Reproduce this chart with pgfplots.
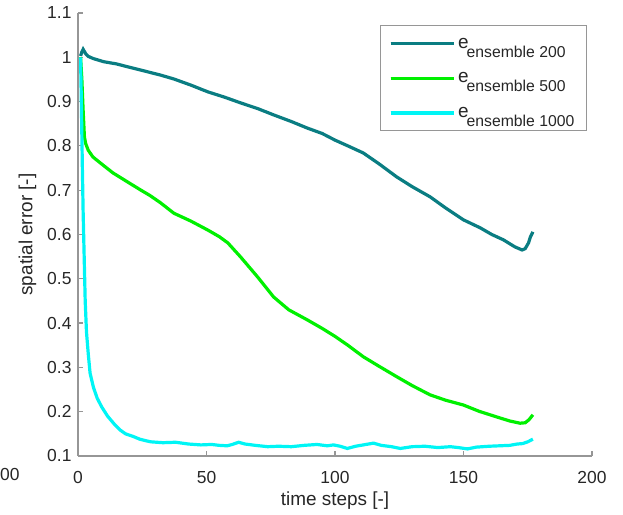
\documentclass[border=0pt]{standalone}
\usepackage{fontspec}
\setmainfont{Liberation Sans}
\usepackage{pgfplots}
\pgfplotsset{compat=1.18}
\definecolor{cteal}{RGB}{10,125,130}
\definecolor{cgreen}{RGB}{0,240,0}
\definecolor{ccyan}{RGB}{0,245,245}
\definecolor{axgray}{RGB}{150,150,150}
\newcommand{\ens}[1]{e\kern-2bp\raisebox{-9bp}{\fontsize{15.8}{17}\selectfont ensemble #1}}
\begin{document}
\begin{tikzpicture}
\begin{axis}[
  scale only axis, width=514bp, height=443bp,
  xmin=0, xmax=200, ymin=0.1, ymax=1.1,
  axis lines*=left,
  axis line style={axgray, line width=1.5bp},
  tick style={axgray, line width=1.2bp},
  tick align=inside, major tick length=5bp,
  xtick={0,50,100,150,200},
  ytick={0.1,0.2,0.3,0.4,0.5,0.6,0.7,0.8,0.9,1,1.1},
  yticklabels={0.1,0.2,0.3,0.4,0.5,0.6,0.7,0.8,0.9,1,1.1},
  /pgf/number format/assume math mode=true,
  ticklabel style={font=\fontsize{17.5}{20}\selectfont, text=black!85},
  xticklabel style={yshift=-12bp},
  yticklabel style={xshift=-3bp},
  xlabel={time steps [-]}, ylabel={spatial error [-]},
  label style={font=\fontsize{19}{22}\selectfont, text=black!85},
  xlabel style={yshift=-1bp},
  ylabel style={yshift=4bp},
  clip=false,
  legend cell align=left,
  legend image code/.code={\draw[#1] (0bp,0bp) -- (60bp,0bp); \path (0bp,0bp) -- (63bp,0bp);},
  legend style={at={(rel axis cs:0.990,0.972)}, anchor=north east,
    draw=axgray, line width=1bp, fill=white,
    font=\fontsize{19}{22}\selectfont, text=black!85,
    inner xsep=9bp, inner ysep=9bp, row sep=17bp,
    nodes={inner sep=3bp}},
]
\addplot[cteal, line width=3.2bp] coordinates {
(1,1.003)(1.5,1.012)(2,1.018)(3,1.008)(4,1.002)(6,0.997)(10,0.990)(15,0.985)
(19,0.979)(24.5,0.971)(32,0.960)(37.3,0.951)(44,0.937)(50.5,0.922)(57,0.910)
(63.3,0.897)(70,0.884)(76.1,0.870)(83,0.855)(89.3,0.840)(95,0.828)(100,0.813)
(105,0.800)(111,0.784)(117,0.760)(124,0.730)(130,0.708)(137,0.685)(143,0.660)
(150,0.633)(156.5,0.615)(161,0.600)(165.5,0.588)(170,0.572)(172.8,0.565)
(174,0.568)(175.3,0.581)(176,0.594)(177,0.606)};
\addlegendentry{\ens{200}}
\addplot[cgreen, line width=3.2bp] coordinates {
(1,1.0)(1.5,0.95)(2,0.88)(2.5,0.82)(3,0.805)(4,0.79)(5.8,0.775)(9,0.760)
(13.6,0.739)(20,0.716)(24.5,0.700)(28,0.688)(32,0.672)(37.3,0.648)(44,0.630)
(50.5,0.610)(55,0.595)(58.3,0.581)(63.3,0.549)(69.9,0.504)(76.1,0.459)
(82,0.430)(89.3,0.407)(95,0.388)(100,0.370)(105,0.350)(111,0.324)(117,0.303)
(124,0.279)(130,0.259)(137,0.238)(143,0.226)(150,0.215)(156,0.201)(163,0.188)
(168,0.179)(172,0.174)(174,0.175)(175.5,0.182)(177,0.193)};
\addlegendentry{\ens{500}}
\addplot[ccyan, line width=3.2bp] coordinates {
(1,1.0)(1.3,0.9)(1.7,0.75)(2,0.65)(2.4,0.55)(2.8,0.45)(3.3,0.38)(4,0.33)
(4.7,0.287)(6,0.255)(7.5,0.23)(9.2,0.211)(11.5,0.19)(14.4,0.170)(16.3,0.159)
(18.5,0.150)(21.5,0.144)(24,0.138)(26,0.135)(28.3,0.132)(33,0.130)(38,0.131)
(43,0.127)(47.8,0.125)(52,0.126)(55,0.124)(58,0.123)(60,0.126)(62.5,0.131)
(65,0.127)(69,0.124)(73.8,0.121)(78,0.122)(83,0.121)(88,0.124)(93,0.126)
(97,0.123)(99.4,0.125)(102,0.122)(104.8,0.117)(108,0.122)(112,0.126)
(115,0.129)(118,0.124)(122,0.121)(125.4,0.117)(130,0.121)(135,0.122)
(140,0.119)(144.9,0.121)(148,0.119)(151.5,0.116)(155,0.120)(160,0.122)
(164,0.123)(168,0.124)(170.9,0.127)(173,0.128)(175,0.132)(177,0.138)};
\addlegendentry{\ens{1000}}
\node[anchor=west, inner sep=0pt, font=\fontsize{17.5}{20}\selectfont, text=black!85] at (axis cs:-30.35,0.0571) {00};
\path (axis cs:-30.35,1.1293) rectangle (axis cs:212.06,-0.0332);
\end{axis}
\end{tikzpicture}
\end{document}
